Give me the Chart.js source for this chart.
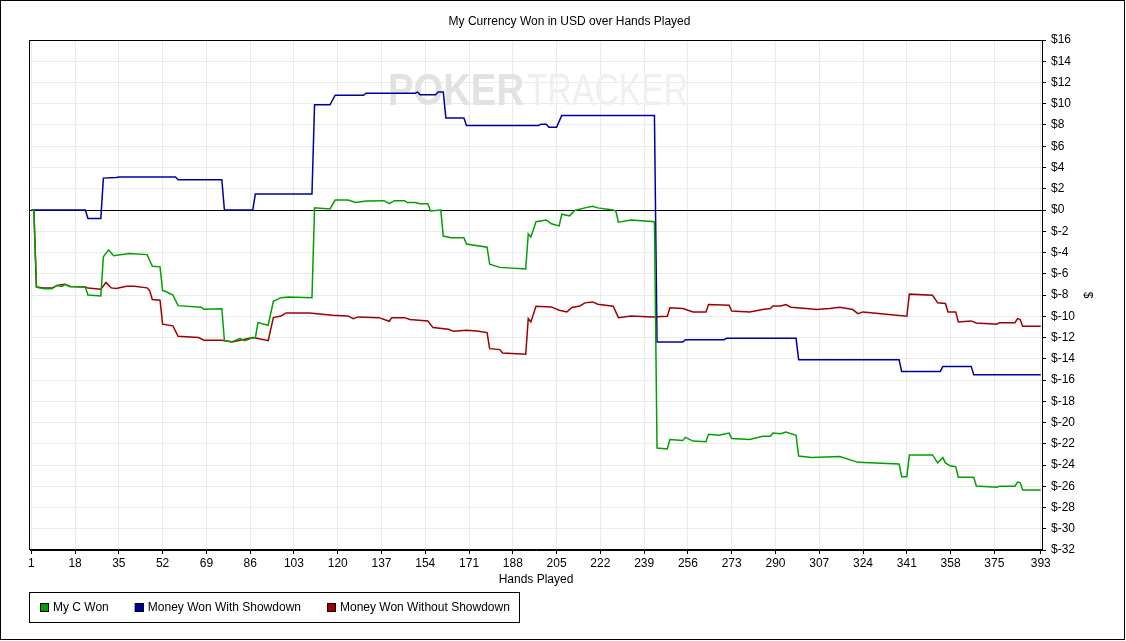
<!DOCTYPE html>
<html>
<head>
<meta charset="utf-8">
<title>My Currency Won in USD over Hands Played</title>
<script src="https://cdn.jsdelivr.net/npm/chart.js@4.4.1/dist/chart.umd.min.js"></script>
<style>
  html, body { margin: 0; padding: 0; background: #fff; }
  canvas { display: block; }
</style>
</head>
<body>
<canvas id="wonChart" width="1126" height="641"></canvas>
<script>
// hand number where the x axis puts a label
const handTicks = [1, 18, 35, 52, 69, 86, 103, 120, 137, 154, 171, 188, 205, 222, 239, 256, 273, 290, 307, 324, 341, 358, 375, 393];

// [hand, dollars], only where the line changes
const myCWon = [
    [1, 0], [2, 0], [3, -7.25], [6, -7.4], [9, -7.4], [11, -7.1], [13, -7.2], [14, -7.0], [16, -7.2], [22, -7.25],
    [23, -8.0], [28, -8.1], [29, -4.4], [31, -3.75], [33, -4.3], [39, -4.1], [46, -4.2], [48, -5.3], [51, -5.35],
    [52, -7.6], [53, -7.65], [56, -8.0], [58, -9.0], [67, -9.15], [68, -9.35], [75, -9.3], [76, -12.3], [79, -12.4],
    [82, -12.1], [84, -12.3], [87, -12.0], [88, -12.05], [89, -10.6], [93, -10.85], [95, -8.6], [98, -8.25], [101, -8.2],
    [110, -8.25], [111, 0.2], [117, 0.1], [119, 0.94], [124, 0.94], [127, 0.7], [131, 0.85], [138, 0.88], [140, 0.6],
    [142, 0.88], [146, 0.88], [147, 0.7], [150, 0.7], [152, 0.6], [155, 0.6], [156, -0.1], [160, 0], [161, -2.45],
    [164, -2.6], [169, -2.6], [170, -3.2], [178, -3.5], [179, -5.1], [183, -5.4], [193, -5.55], [194, -2.26],
    [195, -2.55], [197, -1.1], [201, -0.95], [203, -1.3], [206, -1.5], [207, -0.4], [210, -0.55], [212, -0.05],
    [216, 0.2], [219, 0.35], [221, 0.2], [227, 0], [228, -0.1], [229, -1.15], [234, -0.95], [243, -1.1],
    [244, -22.4], [248, -22.5], [249, -21.6], [254, -21.7], [255, -21.4], [258, -21.75], [263, -21.8], [264, -21.1],
    [268, -21.2], [272, -21.0], [273, -21.5], [280, -21.6], [285, -21.3], [288, -21.3], [289, -21.0], [292, -21.05],
    [294, -20.9], [298, -21.2], [299, -23.15], [304, -23.3], [315, -23.2], [322, -23.75], [338, -23.9], [339, -25.1],
    [341, -25.1], [342, -23.05], [351, -23.05], [353, -23.8], [355, -23.3], [356, -23.8], [358, -24.1], [360, -24.15],
    [361, -25.15], [367, -25.15], [368, -25.98], [376, -26.1], [377, -26.0], [383, -26.0], [384, -25.6], [385, -25.65],
    [386, -26.35], [393, -26.35]
];

const wonWithShowdown = [
    [1, 0], [22, 0], [23, -0.8], [28, -0.8], [29, 3.0], [34, 3.05], [35, 3.1], [57, 3.1], [58, 2.85], [75, 2.85],
    [76, 0], [87, 0], [88, 1.5], [110, 1.5], [111, 9.9], [117, 9.9], [119, 10.8], [130, 10.8], [131, 11.0], [150, 11.0],
    [151, 11.1], [152, 10.85], [158, 10.85], [159, 11.1], [161, 11.1], [162, 8.65], [169, 8.65], [170, 7.95],
    [198, 7.95], [199, 8.08], [201, 8.08], [202, 7.8], [205, 7.8], [207, 8.9], [243, 8.9], [244, -12.42],
    [254, -12.42], [255, -12.2], [270, -12.2], [271, -12.08], [298, -12.08], [299, -14.09], [338, -14.09],
    [339, -15.19], [354, -15.19], [355, -14.72], [366, -14.72], [367, -15.5], [393, -15.5]
];

const wonWithoutShowdown = [
    [1, 0], [2, 0], [3, -7.25], [6, -7.35], [9, -7.35], [11, -7.1], [14, -7.0], [16, -7.2], [22, -7.25], [23, -7.35],
    [28, -7.45], [30, -6.82], [32, -7.33], [34, -7.39], [38, -7.17], [41, -7.17], [46, -7.33], [47, -7.6], [48, -8.43],
    [51, -8.49], [52, -10.75], [56, -10.9], [58, -11.89], [66, -12.0], [68, -12.26], [75, -12.26], [79, -12.42],
    [87, -12.0], [89, -12.1], [93, -12.3], [95, -10.13], [98, -9.97], [100, -9.69], [109, -9.69], [118, -9.91],
    [124, -9.97], [126, -10.22], [128, -10.06], [136, -10.13], [140, -10.47], [141, -10.13], [146, -10.13],
    [148, -10.31], [155, -10.44], [157, -11.07], [163, -11.23], [165, -11.42], [170, -11.32], [174, -11.38],
    [178, -11.54], [179, -13.05], [183, -13.14], [184, -13.46], [193, -13.58], [194, -10.22], [195, -10.53],
    [197, -9.06], [203, -9.12], [206, -9.43], [209, -9.59], [211, -9.18], [214, -9.03], [216, -8.74], [219, -8.65],
    [221, -8.87], [227, -9.06], [229, -10.13], [234, -9.97], [242, -10.06], [248, -10.0], [249, -9.21], [254, -9.28],
    [258, -9.59], [263, -9.59], [264, -8.9], [272, -8.96], [273, -9.5], [280, -9.59], [285, -9.37], [288, -9.28],
    [289, -9.03], [292, -9.03], [294, -8.9], [296, -9.15], [302, -9.28], [306, -9.37], [311, -9.28], [315, -9.15],
    [320, -9.37], [322, -9.75], [324, -9.59], [330, -9.75], [341, -10.0], [342, -7.92], [351, -8.02], [353, -8.74],
    [356, -8.8], [357, -9.59], [360, -9.59], [361, -10.53], [366, -10.44], [368, -10.63], [376, -10.75], [377, -10.6],
    [383, -10.6], [384, -10.22], [385, -10.31], [386, -10.94], [393, -10.94]
];

const seriesNames = ['My C Won', 'Money Won With Showdown', 'Money Won Without Showdown'];
const seriesColors = ['#00a000', '#0000a0', '#a00000'];

const FONT = '"Liberation Sans", Arial, sans-serif';
const toPoints = rows => rows.map(r => ({ x: r[0], y: r[1] }));

// frame around the whole picture and around the plot
const framePlugin = {
    id: 'frames',
    afterDraw(chart) {
        const { ctx, chartArea: ca } = chart;
        ctx.save();
        ctx.strokeStyle = '#000';
        ctx.lineWidth = 1;
        ctx.strokeRect(0.5, 0.5, chart.width - 2, chart.height - 2);
        ctx.strokeRect(Math.round(ca.left) - 0.5, Math.round(ca.top) + 0.5,
            Math.round(ca.right - ca.left) + 1, Math.round(ca.bottom - ca.top) - 1);
        ctx.restore();
    }
};

// faint brand text behind the lines
const watermarkPlugin = {
    id: 'watermark',
    beforeDatasetsDraw(chart) {
        const { ctx, chartArea: ca } = chart;
        const base = ca.top + 65;
        const drawWord = (text, weight, colour, x, width) => {
            ctx.font = weight + ' 44px ' + FONT;
            const w = ctx.measureText(text).width;
            ctx.save();
            ctx.translate(x, base);
            ctx.scale(width / w, 1);
            ctx.fillStyle = colour;
            ctx.textBaseline = 'alphabetic';
            ctx.fillText(text, 0, 0);
            ctx.restore();
        };
        drawWord('POKER', 'bold', '#e2e2e2', ca.left + 358, 136);
        drawWord('TRACKER', 'normal', '#efefef', ca.left + 497, 161);
    }
};

// boxed legend under the axis title
const boxLegendPlugin = {
    id: 'boxLegend',
    afterDraw(chart) {
        const { ctx, chartArea: ca } = chart;
        const top = ca.bottom + 42;
        const height = 30;
        ctx.save();
        ctx.font = '12px ' + FONT;
        ctx.textBaseline = 'middle';
        let x = ca.left + 10;
        chart.data.datasets.forEach((ds, i) => {
            ctx.fillStyle = ds.borderColor;
            ctx.fillRect(x, top + 11, 9, 9);
            ctx.strokeStyle = '#000';
            ctx.lineWidth = 1;
            ctx.strokeRect(x + 0.5, top + 11.5, 8, 8);
            ctx.fillStyle = '#000';
            ctx.fillText(ds.label, x + 13, top + 16);
            const w = ctx.measureText(ds.label).width;
            x += 13 + w + (i < chart.data.datasets.length - 1 ? 26 : 0);
        });
        ctx.strokeStyle = '#000';
        ctx.strokeRect(Math.round(ca.left) - 0.5, top + 0.5, Math.round(x + 10 - ca.left), height);
        ctx.restore();
    }
};

const datasets = [myCWon, wonWithShowdown, wonWithoutShowdown].map((rows, i) => ({
    label: seriesNames[i],
    data: toPoints(rows),
    borderColor: seriesColors[i],
    backgroundColor: seriesColors[i],
    borderWidth: 1.5,
    pointRadius: 0,
    tension: 0,
    fill: false
}));

new Chart(document.getElementById('wonChart'), {
    type: 'line',
    data: { datasets: datasets },
    options: {
        responsive: false,
        animation: false,
        devicePixelRatio: 1,
        layout: { padding: { left: 30, right: 17, top: 0, bottom: 51 } },
        plugins: {
            legend: { display: false },
            tooltip: { enabled: false },
            title: {
                display: true,
                text: 'My Currency Won in USD over Hands Played',
                color: '#000',
                font: { family: FONT, size: 12, weight: 'normal' },
                padding: { top: 14, bottom: 11.6 }
            }
        },
        scales: {
            x: {
                type: 'linear',
                min: 0.5,
                max: 393.5,
                afterBuildTicks: scale => { scale.ticks = handTicks.map(v => ({ value: v })); },
                afterFit: scale => { scale.height = 40; },
                ticks: {
                    autoSkip: false,
                    maxRotation: 0,
                    color: '#000',
                    padding: 2,
                    font: { family: FONT, size: 12 },
                    callback: v => String(v)
                },
                grid: { color: '#ebebeb', tickColor: '#000', tickLength: 4 },
                border: { color: '#000' },
                title: {
                    display: true,
                    text: 'Hands Played',
                    color: '#000',
                    font: { family: FONT, size: 12 },
                    padding: { top: 0, bottom: 3 }
                }
            },
            y: {
                position: 'right',
                min: -32,
                max: 16,
                afterFit: scale => { scale.width = 67; },
                ticks: {
                    stepSize: 2,
                    color: '#000',
                    padding: 5,
                    font: { family: FONT, size: 12 },
                    callback: v => '$' + v
                },
                grid: {
                    color: c => (c.tick && c.tick.value === 0 ? '#000' : '#ebebeb'),
                    tickColor: '#000',
                    tickLength: 4
                },
                border: { color: '#000' },
                title: {
                    display: true,
                    text: '$',
                    color: '#000',
                    font: { family: FONT, size: 12 },
                    padding: { top: 14, bottom: 0 }
                }
            }
        }
    },
    plugins: [watermarkPlugin, framePlugin, boxLegendPlugin]
});
</script>
</body>
</html>
